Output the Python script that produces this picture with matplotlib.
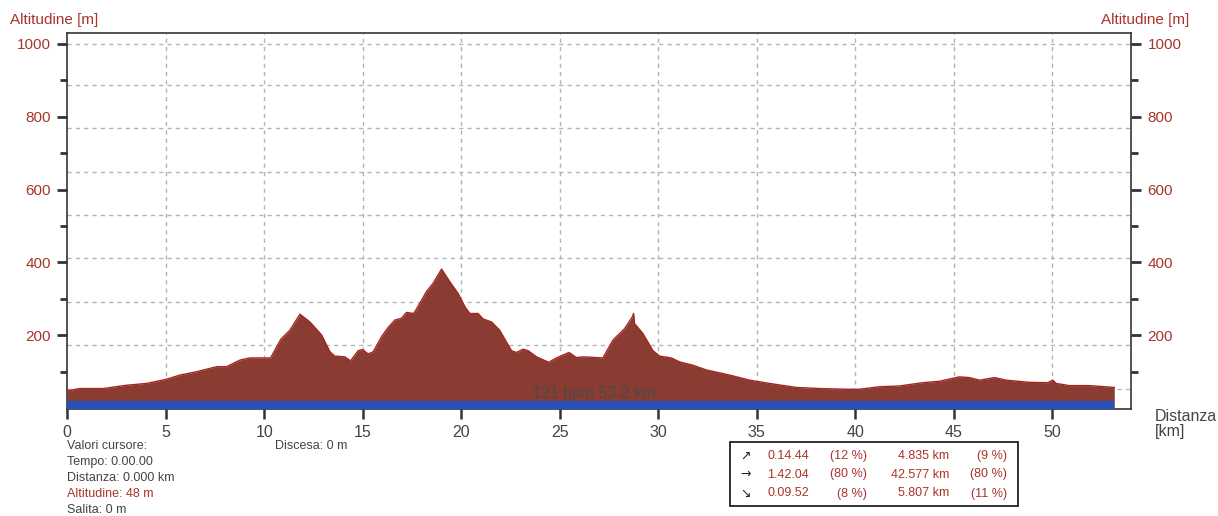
import matplotlib.pyplot as plt

# Altitude profile (distance km, altitude m)
dist_km = [0.0, 0.64, 1.83, 3.0, 4.03, 5.0, 5.72, 6.56, 7.58, 8.09, 8.76, 9.27, 10.32,
           10.85, 11.3, 11.81, 12.31, 12.91, 13.33, 13.58, 14.09, 14.38, 14.77, 14.99,
           15.27, 15.53, 15.95, 16.29, 16.63, 16.97, 17.22, 17.59, 17.81, 18.23, 18.57,
           19.0, 19.42, 19.84, 20.18, 20.43, 20.85, 21.11, 21.53, 21.95, 22.55, 22.8,
           23.14, 23.39, 23.82, 24.44, 24.83, 25.47, 25.84, 26.18, 27.19, 27.7, 28.3,
           28.69, 28.75, 28.79, 29.22, 29.73, 30.07, 30.66, 31.09, 31.76, 32.44, 33.62,
           34.64, 35.65, 37.0, 38.19, 39.54, 40.22, 41.23, 42.25, 42.76, 43.43, 44.28,
           44.95, 45.29, 45.8, 46.31, 47.07, 47.66, 48.84, 49.77, 50.03, 50.2, 50.87,
           51.89, 53.15]
alt_m = [48, 54, 54, 63, 68, 79, 91, 100, 114, 114, 132, 138, 138,
         190, 214, 258, 237, 201, 155, 143, 141, 130, 158, 161,
         149, 155, 196, 222, 242, 247, 263, 260, 280, 320, 343,
         382, 347, 315, 279, 260, 260, 245, 237, 214, 158, 153,
         162, 158, 141, 126, 138, 153, 139, 141, 138, 187, 219,
         251, 260, 233, 205, 158, 143, 138, 127, 118, 105, 91,
         77, 68, 57, 54, 52, 52, 59, 61, 65, 70, 74,
         82, 86, 84, 77, 84, 77, 71, 70, 77, 68, 62,
         62, 57]

band_top = 19  # blue band height (m)
y_major = [200, 400, 600, 800, 1000]
y_minor = [100, 300, 500, 700, 900]
x_major = [0, 5, 10, 15, 20, 25, 30, 35, 40, 45, 50]
grid_alt = [54, 173, 292, 411, 530, 649, 768, 887, 1000]

cursor_lines = ["Valori cursore:", "Tempo: 0.00.00", "Distanza: 0.000 km",
                "Altitudine: 48 m", "Salita: 0 m"]
summary_arrows = ["\u2197", "\u2192", "\u2198"]
summary_time = ["0.14.44", "1.42.04", "0.09.52"]
summary_time_pct = ["(12 %)", "(80 %)", "(8 %)"]
summary_dist = ["4.835 km", "42.577 km", "5.807 km"]
summary_dist_pct = ["(9 %)", "(80 %)", "(11 %)"]

RED = "#a8342a"
GREY = "#444444"
FILL = "#8a3b32"
EDGE = "#a4261c"
BLUE = "#2352be"

plt.rcParams['font.family'] = ['Liberation Sans', 'DejaVu Sans']

W, H = 1218, 516
fig = plt.figure(figsize=(W / 100, H / 100), dpi=100)
ax = fig.add_axes([67.3 / W, (H - 409.3) / H, (1131 - 67.3) / W, (409.3 - 33) / H])
ax.set_xlim(0, 54)
ax.set_ylim(-3, 1030)

# grid
for g in grid_alt:
    ax.axhline(g, color="#b4b4b4", lw=1, ls=(0, (3, 3)), zorder=0)
for xv in x_major[1:]:
    ax.axvline(xv, color="#b4b4b4", lw=1, ls=(0, (3, 3)), zorder=0)

# profile
ax.fill_between(dist_km, alt_m, 0, color=FILL, lw=0, zorder=2)
ax.plot(dist_km, alt_m, color=EDGE, lw=1.0, zorder=3)
ax.fill_between([dist_km[0], dist_km[-1]], -3, band_top, color=BLUE, lw=0, zorder=4)
ax.text(26.7, 40, "121 bpm 53.2 km", color="#4a4a4a", fontsize=11.5,
        ha="center", va="center", zorder=5)

for s in ax.spines.values():
    s.set_color("#333333")
    s.set_linewidth(1.2)

ax.set_xticks(x_major)
ax.set_xticklabels([str(v) for v in x_major], color=GREY, fontsize=11.5)
ax.tick_params(axis="x", length=7, width=1.8, color="#333333", pad=4)

ax.set_yticks(y_major)
ax.set_yticks(y_minor, minor=True)
ax.set_yticklabels([str(v) for v in y_major], color=RED, fontsize=11)
ax.tick_params(axis="y", which="major", length=7, width=2, color="#333333", pad=5)
ax.tick_params(axis="y", which="minor", length=5, width=2, color="#333333")

ax2 = ax.twinx()
ax2.set_ylim(ax.get_ylim())
ax2.set_yticks(y_major)
ax2.set_yticks(y_minor, minor=True)
ax2.set_yticklabels([str(v) for v in y_major], color=RED, fontsize=11)
ax2.tick_params(axis="y", which="major", length=7, width=2, color="#333333", pad=5)
ax2.tick_params(axis="y", which="minor", length=5, width=2, color="#333333")
for s in ax2.spines.values():
    s.set_visible(False)

fig.text(10 / W, 1 - 20 / H, "Altitudine [m]", color=RED, fontsize=11, va="center", ha="left")
fig.text(1189 / W, 1 - 20 / H, "Altitudine [m]", color=RED, fontsize=11, va="center", ha="right")
fig.text(1155 / W, 1 - 424 / H, "Distanza\n[km]", color=GREY, fontsize=11.5, va="center",
         ha="left", linespacing=1.0)

# cursor values
for i, line in enumerate(cursor_lines):
    col = RED if line.startswith("Altitudine") else GREY
    fig.text(67 / W, 1 - (446 + 16 * i) / H, line, color=col, fontsize=9, va="center")
fig.text(275 / W, 1 - 446 / H, "Discesa: 0 m", color=GREY, fontsize=9, va="center")

# summary box
box = plt.Rectangle((730 / W, 1 - 506 / H), 288 / W, 64 / H, transform=fig.transFigure,
                    fill=False, ec="#222222", lw=1.3)
fig.patches.append(box)
row_y = [456, 474.5, 493.5]
for i in range(3):
    y = 1 - row_y[i] / H
    fig.text(740 / W, y, summary_arrows[i], color="#222222", fontsize=9, va="center",
             family=['DejaVu Sans'])
    fig.text(809 / W, y, summary_time[i], color=RED, fontsize=9, va="center", ha="right")
    fig.text(867 / W, y, summary_time_pct[i], color=RED, fontsize=9, va="center", ha="right")
    fig.text(949 / W, y, summary_dist[i], color=RED, fontsize=9, va="center", ha="right")
    fig.text(1007 / W, y, summary_dist_pct[i], color=RED, fontsize=9, va="center", ha="right")

fig.savefig("out.png", dpi=100)
